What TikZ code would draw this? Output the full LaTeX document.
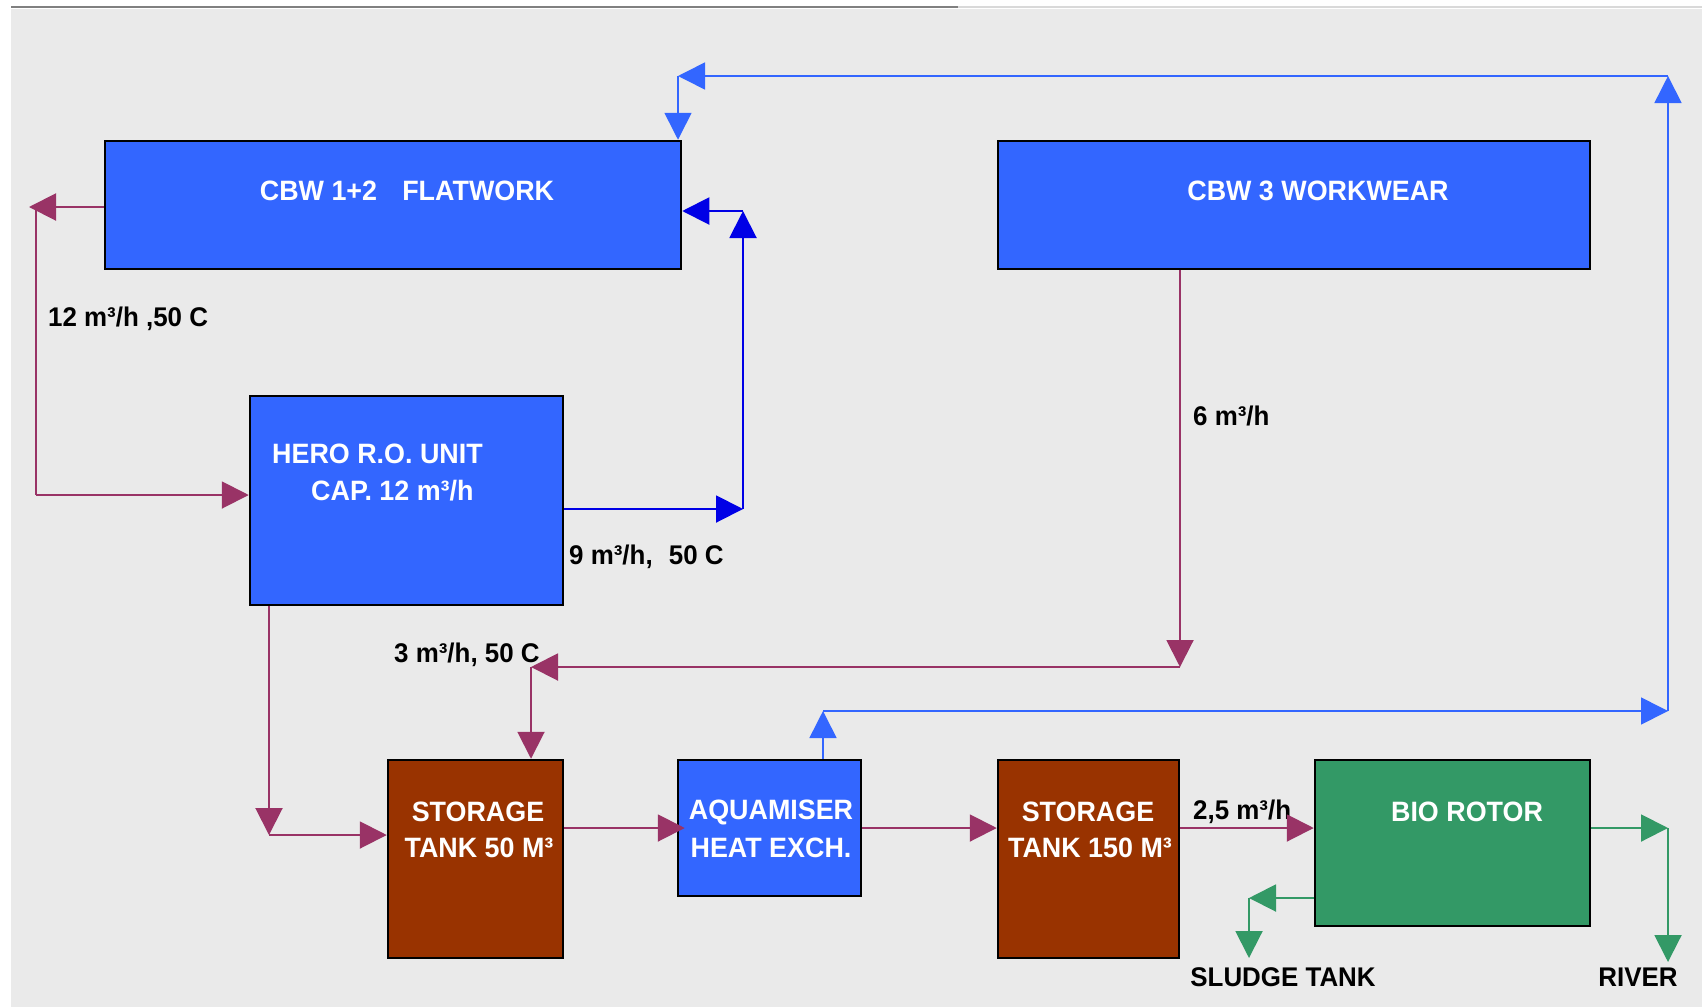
\documentclass[tikz,border=0pt]{standalone}
\usepackage{fontspec}
\setmainfont{Liberation Sans}[FakeStretch=0.96]
\usetikzlibrary{arrows.meta}

\definecolor{boxblue}{RGB}{51,102,255}
\definecolor{tankbrown}{RGB}{153,51,0}
\definecolor{rotorgreen}{RGB}{51,153,102}
\definecolor{flowred}{RGB}{153,51,102}
\definecolor{flowblue}{RGB}{0,0,230}
\definecolor{paper}{RGB}{234,234,234}

\tikzset{
	unit/.style={draw=black, line width=2.5pt, inner sep=0pt},
	intext/.style={text=white, font=\fontsize{28}{30}\selectfont\bfseries, inner sep=0pt},
	lbl/.style={text=black, font=\fontsize{27}{30}\selectfont\bfseries, inner sep=0pt},
	arr/.style={-{Triangle[length=27pt,width=27pt]}},
	redflow/.style={draw=flowred, line width=2pt},
	darkflow/.style={draw=flowblue, line width=2pt},
	loopflow/.style={draw=boxblue, line width=1.6pt},
	greenflow/.style={draw=rotorgreen, line width=2pt}
}

\begin{document}
\begin{tikzpicture}[x=1pt, y=-1pt]
			\useasboundingbox (0,0) rectangle (1702,1007);
			\fill[white] (0,0) rectangle (1702,1007);
			\fill[paper] (11,9) rectangle (1702,1007);
			\draw[gray, line width=1.5pt] (11,7) -- (958,7);
			\draw[black!15, line width=1.5pt] (958,7) -- (1702,7);
			% units
			\node[unit, fill=boxblue, minimum width=576pt, minimum height=128pt] (flat) at (393,205) {};
			\node[unit, fill=boxblue, minimum width=592pt, minimum height=128pt] (work) at (1294,205) {};
			\node[unit, fill=boxblue, minimum width=313pt, minimum height=209pt] (hero) at (406.5,500.5) {};
			\node[unit, fill=tankbrown, minimum width=175pt, minimum height=198pt] (tankA) at (475.5,859) {};
			\node[unit, fill=boxblue, minimum width=183pt, minimum height=136pt] (aqua) at (769.5,828) {};
			\node[unit, fill=tankbrown, minimum width=181pt, minimum height=198pt] (tankB) at (1088.5,859) {};
			\node[unit, fill=rotorgreen, minimum width=275pt, minimum height=166pt] (bio) at (1452.5,843) {};
			\node[intext] (flattxt) at (407,191) {CBW 1+2\hspace{0.9em}FLATWORK};
			\node[intext] (worktxt) at (1318,191) {CBW 3 WORKWEAR};
			\node[intext, anchor=west] (herotxt) at (272,454) {HERO R.O. UNIT};
			\node[intext, anchor=west] (captxt) at (311,491) {CAP. 12 m³/h};
			\node[intext] (tankAtxt) at (478,812) {STORAGE};
			\node[intext] (tankAtxtb) at (479,848) {TANK 50 M³};
			\node[intext] (aquatxt) at (771,812) {AQUAMISER};
			\node[intext] (aquatxtb) at (771,848) {HEAT EXCH.};
			\node[intext] (tankBtxt) at (1088,812) {STORAGE};
			\node[intext] (tankBtxtb) at (1090,848) {TANK 150 M³};
			\node[intext] (biotxt) at (1467,812) {BIO ROTOR};
			% flow labels
			\node[lbl, anchor=west] (q12) at (48,319) {12 m³/h ,50 C};
			\node[lbl, anchor=west] (q9) at (569,557) {9 m³/h,\hspace{0.6em}50 C};
			\node[lbl, anchor=west] (q3) at (394,655) {3 m³/h, 50 C};
			\node[lbl, anchor=west] (q6) at (1193,416) {6 m³/h};
			\node[lbl, anchor=west] (q25) at (1193,812) {2,5 m³/h};
			\node[lbl] (sludge) at (1283,977) {SLUDGE TANK};
			\node[lbl] (river) at (1638,977) {RIVER};
			% return loop from aquamiser
			\coordinate (lb1) at (823,711);
			\coordinate (lb2) at (1668,711);
			\coordinate (lb3) at (1668,76);
			\coordinate (lb4) at (678,76);
			\draw[loopflow, arr] (aqua.north -| lb1) -- (lb1);
			\draw[loopflow, arr] (lb1) -- (lb2);
			\draw[loopflow, arr] (lb2) -- (lb3);
			\draw[loopflow, arr] (lb3) -- (lb4);
			\draw[loopflow, arr] (lb4) -- (lb4 |- flat.north);
			% permeate back to flatwork
			\coordinate (db1) at (743,509);
			\coordinate (db2) at (743,211);
			\draw[darkflow, arr] (hero.east |- db1) -- (db1);
			\draw[darkflow, arr] (db1) -- (db2);
			\draw[darkflow, arr] (db2) -- (db2 -| flat.east);
			% flatwork to hero
			\coordinate (r1) at (29,207);
			\coordinate (r1b) at (36,207);
			\coordinate (r2) at (36,495);
			\draw[redflow, arr] (flat.west |- r1) -- (r1);
			\draw[redflow] (r1b) -- (r2);
			\draw[redflow, arr] (r2) -- (r2 -| hero.west);
			% workwear to tank
			\coordinate (r3) at (1180,667);
			\coordinate (r4) at (531,667);
			\draw[redflow, arr] (work.south -| r3) -- (r3);
			\draw[redflow, arr] (r3) -- (r4);
			\draw[redflow, arr] (r4) -- (r4 |- tankA.north);
			% concentrate to tank
			\coordinate (r5) at (269,835);
			\draw[redflow, arr] (hero.south -| r5) -- (r5);
			\draw[redflow, arr] (r5) -- (r5 -| tankA.west);
			% main line
			\draw[redflow, arr] (tankA.east |- aqua.west) -- ([xshift=8pt]aqua.west);
			\draw[redflow, arr] (aqua.east) -- (tankB.west |- aqua.east);
			\draw[redflow, arr] (tankB.east |- aqua.east) -- (bio.west |- aqua.east);
			% bio rotor outlets
			\coordinate (g1) at (1668,828);
			\coordinate (g2) at (1668,962);
			\coordinate (g3) at (1249,898);
			\coordinate (g4) at (1249,958);
			\draw[greenflow, arr] (bio.east |- g1) -- (g1);
			\draw[greenflow, arr] (g1) -- (g2);
			\draw[greenflow, arr] (bio.west |- g3) -- (g3);
			\draw[greenflow, arr] (g3) -- (g4);
\end{tikzpicture}
\end{document}
